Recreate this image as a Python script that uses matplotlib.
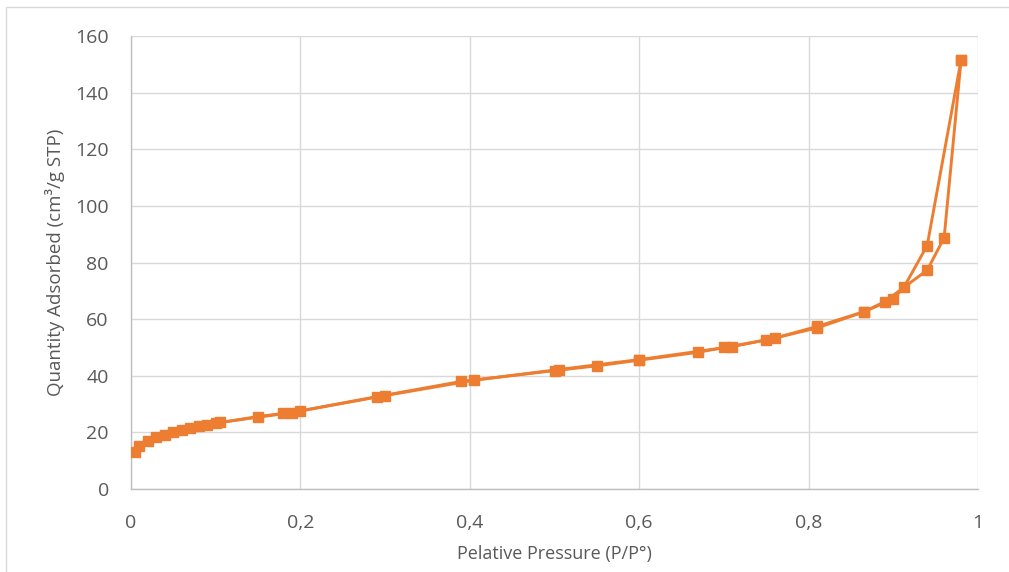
import numpy as np
import matplotlib.pyplot as plt
from matplotlib.patches import Rectangle
from matplotlib.ticker import FuncFormatter

# adsorption branch
p_ads = [0.005, 0.01, 0.02, 0.03, 0.04, 0.05, 0.06, 0.07, 0.08, 0.09, 0.10,
         0.15, 0.18, 0.20, 0.29, 0.39, 0.50, 0.55, 0.60, 0.67, 0.70, 0.75,
         0.81, 0.865, 0.89, 0.94, 0.96, 0.98]
q_ads = [13.0, 15.2, 17.0, 18.3, 19.2, 20.0, 20.8, 21.5, 22.1, 22.7, 23.2,
         25.6, 26.7, 27.6, 32.6, 38.0, 41.8, 43.5, 45.5, 48.3, 50.0, 52.6,
         56.9, 62.5, 66.2, 77.3, 88.7, 151.5]

# desorption branch
p_des = [0.98, 0.94, 0.913, 0.90, 0.865, 0.81, 0.76, 0.71, 0.60, 0.505,
         0.405, 0.30, 0.19, 0.105]
q_des = [151.5, 86.0, 71.5, 67.0, 62.6, 57.4, 53.3, 50.3, 45.7, 42.2,
         38.4, 33.0, 27.0, 23.5]

x_ticks = [0, 0.2, 0.4, 0.6, 0.8, 1.0]
y_ticks = [0, 20, 40, 60, 80, 100, 120, 140, 160]

plt.rcParams['font.family'] = ['Open Sans', 'DejaVu Sans']
orange = '#ED7D31'
txt = '#595959'

fig = plt.figure(figsize=(10.09, 5.72), dpi=100)
fig.patches.append(Rectangle((6 / 1009, -0.1), 1.2, 1.1 - 7 / 572,
                             transform=fig.transFigure, fill=False,
                             edgecolor='#d9d9d9', linewidth=1))
ax = fig.add_axes([131 / 1009, 1 - 489 / 572, (978 - 131) / 1009, (489 - 36) / 572])

ax.plot(p_ads, q_ads, color=orange, lw=2.1, marker='s', ms=6.5, zorder=3)
ax.plot(p_des, q_des, color=orange, lw=2.1, marker='s', ms=6.5, zorder=3)

ax.set_xlim(0, 1)
ax.set_ylim(0, 160)
ax.set_xticks(x_ticks)
ax.set_yticks(y_ticks)
ax.xaxis.set_major_formatter(FuncFormatter(lambda v, _: ('%g' % v).replace('.', ',')))
ax.grid(True, color='#d9d9d9', lw=1)
ax.set_axisbelow(True)
for s in ['top', 'right']:
    ax.spines[s].set_visible(False)
for s in ['left', 'bottom']:
    ax.spines[s].set_color('#bfbfbf')
    ax.spines[s].set_linewidth(1)
ax.tick_params(length=0, labelsize=14, colors=txt)
ax.tick_params(axis='y', pad=16)
ax.tick_params(axis='x', pad=18)
ax.set_xlabel('Pelative Pressure (P/P°)', fontsize=13, color=txt, labelpad=9)
ax.set_ylabel('Quantity Adsorbed (cm³/g STP)', fontsize=13.5, color=txt, labelpad=7)

fig.savefig('out.png', dpi=100)
